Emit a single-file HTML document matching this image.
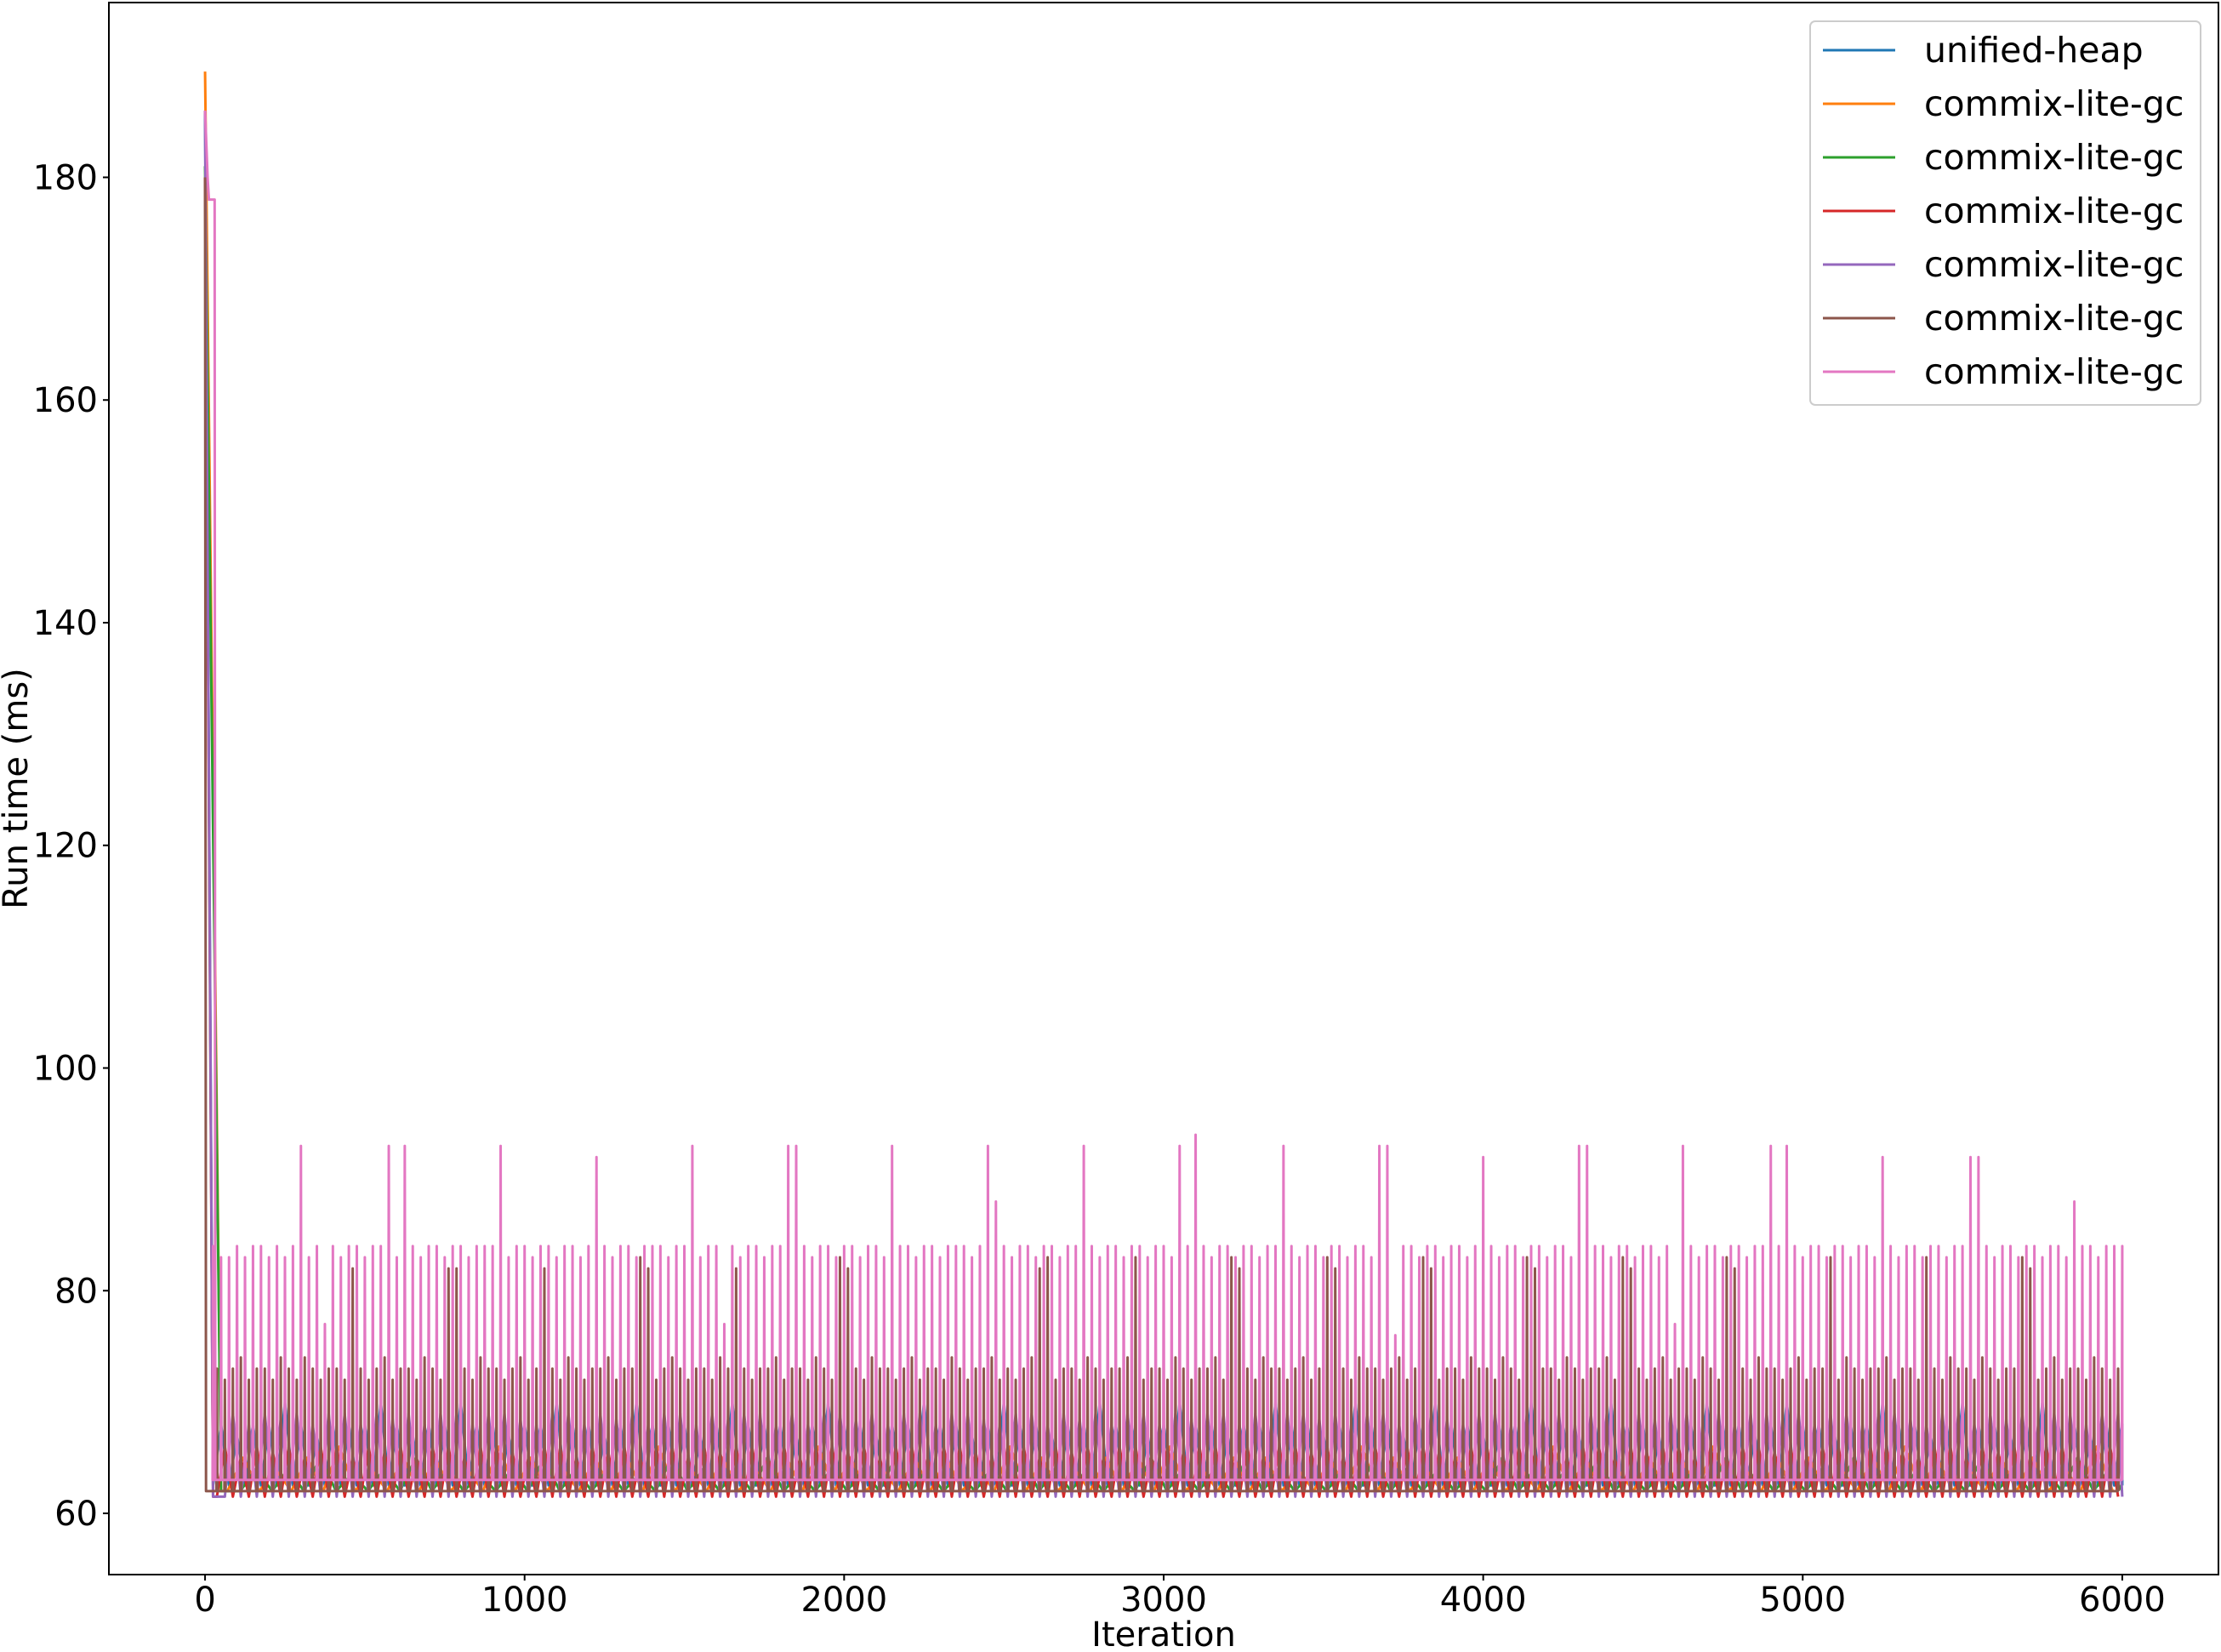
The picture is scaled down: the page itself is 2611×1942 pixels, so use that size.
<!DOCTYPE html>
<html><head><meta charset="utf-8"><style>
html,body{margin:0;padding:0;background:#fff;}
svg{display:block;font-family:"DejaVu Sans","Liberation Sans",sans-serif;}
</style></head><body>
<svg id="chart" width="2611" height="1942" viewBox="0 0 2611 1942" xmlns="http://www.w3.org/2000/svg">
<rect x="0" y="0" width="2611" height="1942" fill="#fff"/>
<g id="series"></g>
<rect x="128" y="3" width="2480" height="1848" fill="none" stroke="#000" stroke-width="2"/>
<g id="xticks"></g>
<g id="yticks"></g>
<text x="1368" y="1935" font-size="40" text-anchor="middle">Iteration</text>
<text transform="translate(32,927) rotate(-90)" font-size="40" text-anchor="middle">Run time (ms)</text>
<g id="legend"></g>
</svg>
<script>
const xTicks = [0,1000,2000,3000,4000,5000,6000];
const yTicks = [60,80,100,120,140,160,180];
const seriesNames = ["unified-heap","commix-lite-gc","commix-lite-gc","commix-lite-gc","commix-lite-gc","commix-lite-gc","commix-lite-gc"];
const seriesColors = ["#1f77b4","#ff7f0e","#2ca02c","#d62728","#9467bd","#8c564b","#e377c2"];
const seriesFloors = [62.5,62,62,61.5,61.5,62,63];
const seriesSteps = [50,100,100,50,50,25,25];
const seriesWidths = [25,50,50,25,25,1.5,1.5];
const seriesOffsets = [0,20,60,12,37,12,0];
const bluePeaks = [186,68,67,68,68,70,68,67,68,68,68,70,68,67,68,68,70,68,68,67,68,68,70,68,68,67,68,70,68,68,68,67,68,70,68,68,68,67,68,70,68,68,67,68,68,70,68,68,67,68,70,68,68,67,68,68,70,68,68,67,68,70,68,68,67,68,68,70,68,68,67,68,70,68,68,67,68,70,68,68,67,68,68,70,68,68,67,68,70,68,68,67,68,68,70,68,68,67,68,70,68,68,67,68,68,70,68,68,67,68,70,68,68,67,68,70,68,68,67,68,68];
const orangePeaks = [189.5,65,64,65,66,64,65,65,64,66,65,64,65,65,66,64,65,64,65,66,65,64,65,65,64,66,65,64,65,65,66,64,65,65,64,65,66,65,64,65,65,64,66,65,64,65,65,66,64,65,65,64,65,66,65,64,65,65,64,66,65];
const greenPeaks = [181,64,64,65,63.5,64,65,64,63.5,64,65,64,64,63.5,65,64,64,65,63.5,64,64,65,64,63.5,64,65,64,64,63.5,65,64,64,65,64,63.5,64,65,64,64,63.5,65,64,64,65,63.5,64,64,65,64,63.5,64,65,64,64,63.5,65,64,64,65,64,64];
const redPeaks = [180,66,65,66,65.5,66,65,66,66,65,66,65.5,66,65,66,66,65,66,66,65.5,65,66,66,65,66,65.5,66,65,66,66,65,66,65.5,66,66,65,66,65,66,66,65.5,66,65,66,66,65,66,66,65.5,65,66,66,65,66,65.5,66,65,66,66,65,66,65.5,66,66,65,66,65,66,66,65.5,66,65,66,66,65,66,66,65.5,65,66,66,65,66,65.5,66,65,66,66,65,66,65.5,66,66,65,66,65,66,66,65.5,66,65,66,66,65,66,66,65.5,65,66,66,65,66,65.5,66,65,66,66,65,66,66];
const purplePeaks = [186,69,68,69,68.5,69,68,69,69,68,69,68.5,69,68,69,69,68,69,69,68.5,68,69,69,68,69,68.5,69,68,69,69,68,69,68.5,69,69,68,69,68,69,69,68.5,69,68,69,69,68,69,69,68.5,68,69,69,68,69,68.5,69,68,69,69,68,69,68.5,69,69,68,69,68,69,69,68.5,69,68,69,69,68,69,69,68.5,68,69,69,68,69,68.5,69,68,69,69,68,69,68.5,69,69,68,69,68,69,69,68.5,69,68,69,69,68,69,69,68.5,68,69,69,68,69,68.5,69,68,69,69,68,69,69];
const brownPeaks = [180,73,72,73,74,72,73,73,72,74,73,72,74,73,72,73,73,72,82,73,72,73,74,72,73,73,72,74,73,72,82,82,73,72,74,73,73,72,73,74,72,73,82,73,72,74,73,72,73,73,74,72,73,73,83,82,72,73,74,73,72,73,73,72,74,73,82,73,72,73,73,74,72,73,73,72,74,73,72,83,82,73,72,74,73,73,72,73,74,72,73,73,72,74,73,72,73,73,74,72,73,72,73,74,82,83,72,73,73,72,74,73,72,73,73,74,83,72,73,73,72,74,73,72,73,73,74,72,83,82,73,72,74,73,73,72,73,74,72,73,83,82,73,72,74,73,73,72,73,74,72,73,83,82,72,73,73,72,74,73,73,72,74,73,72,83,82,73,73,72,74,73,72,73,73,74,72,83,82,73,72,73,74,72,73,73,72,74,73,72,83,82,73,72,74,73,73,72,73,74,72,73,73,83,72,74,73,72,73,73,74,72,73,73,72,83,73,72,74,73,73,72,74,73,72,73,73,83,82,72,73,74,72,73,73,72,74,73,72,73,72];
const pinkPeaks = [186,84,83,83,84,83,84,84,83,84,83,84,93,83,84,77,84,83,84,84,83,84,84,93,83,93,84,83,84,84,83,84,84,83,84,84,84,93,83,84,84,83,84,84,83,84,84,83,84,92,84,83,84,84,83,84,84,84,83,84,84,93,83,84,84,77,84,83,84,84,83,84,84,93,93,84,83,84,84,83,84,84,83,84,84,83,93,84,84,83,84,84,83,84,84,84,83,84,93,88,84,83,84,84,83,84,84,83,84,84,93,84,83,84,84,83,84,84,83,84,84,83,93,84,94,84,83,84,84,83,84,84,83,84,84,93,84,83,84,84,83,84,84,83,84,84,83,93,93,76,84,84,83,84,84,83,84,84,83,84,92,84,83,84,84,83,84,84,83,84,84,83,93,93,84,84,83,84,84,83,84,84,83,84,77,93,84,83,84,84,83,84,84,83,84,84,93,84,93,84,83,84,84,83,84,84,83,84,84,83,92,84,83,84,84,83,84,84,83,84,84,92,92,84,83,84,84,83,84,84,83,84,84,83,88,84,84,83,84,84,84];
const pinkWarmIter = [0,8,12,30,32];
const pinkWarmVal = [186,180,178,178,63];
const allPeaks = [bluePeaks,orangePeaks,greenPeaks,redPeaks,purplePeaks,brownPeaks,pinkPeaks];

const X0=-301, X1=6301, Y0=54.5, Y1=195.7;
const PL=128, PR=2608, PT=3, PB=1851;
function sx(v){return PL+(v-X0)/(X1-X0)*(PR-PL);}
function sy(v){return PB-(v-Y0)/(Y1-Y0)*(PB-PT);}
const NS="http://www.w3.org/2000/svg";
function mk(tag,attrs,parent){const e=document.createElementNS(NS,tag);for(const k in attrs)e.setAttribute(k,attrs[k]);parent.appendChild(e);return e;}

const sg=document.getElementById('series');
allPeaks.forEach((peaks,si)=>{
  const f=seriesFloors[si], st=seriesSteps[si], w=seriesWidths[si], off=seriesOffsets[si];
  const pts=[];
  if(si===6){for(let k=0;k<pinkWarmIter.length;k++)pts.push(sx(pinkWarmIter[k]).toFixed(2)+','+sy(pinkWarmVal[k]).toFixed(2));}
  else{pts.push(sx(0).toFixed(2)+','+sy(peaks[0]).toFixed(2));pts.push(sx(Math.max(w,3)).toFixed(2)+','+sy(f).toFixed(2));}
  for(let i=1;i<peaks.length;i++){
    const x=i*st+off-(off>=st?st:0); if(x>6000)break;
    pts.push(sx(x-w).toFixed(2)+','+sy(f).toFixed(2));
    pts.push(sx(x).toFixed(2)+','+sy(peaks[i]).toFixed(2));
    pts.push(sx(Math.min(x+w,6000)).toFixed(2)+','+sy(f).toFixed(2));
  }
  const pl=mk('polyline',{points:pts.join(' '),fill:'none',stroke:seriesColors[si],'stroke-width':3,'stroke-linejoin':'round'},sg);
  
  
});

const xg=document.getElementById('xticks');
xTicks.forEach(v=>{
  const t=mk('line',{x1:sx(v),x2:sx(v),y1:PB,y2:PB+7,stroke:'#000','stroke-width':2},xg);
  
  
  const l=mk('text',{x:sx(v),y:PB+43,'font-size':40,'text-anchor':'middle'},xg);
  l.textContent=v;
  
  
});
const yg=document.getElementById('yticks');
yTicks.forEach(v=>{
  const t=mk('line',{x1:PL-7,x2:PL,y1:sy(v),y2:sy(v),stroke:'#000','stroke-width':2},yg);
  
  
  const l=mk('text',{x:PL-13,y:sy(v)+14,'font-size':40,'text-anchor':'end'},yg);
  l.textContent=v;
  
  
});
const lg=document.getElementById('legend');
const box=mk('rect',{x:2128,y:25,width:459,height:451,rx:6,fill:'#fff','fill-opacity':0.8,stroke:'#ccc','stroke-width':2},lg);


seriesNames.forEach((n,i)=>{
  const y=59+i*63;
  const ln=mk('line',{x1:2143,x2:2228,y1:y,y2:y,stroke:seriesColors[i],'stroke-width':3},lg);
  
  
  const tx=mk('text',{x:2262,y:y+14,'font-size':41},lg);
  tx.textContent=n;
  
  
});
</script>
</body></html>
